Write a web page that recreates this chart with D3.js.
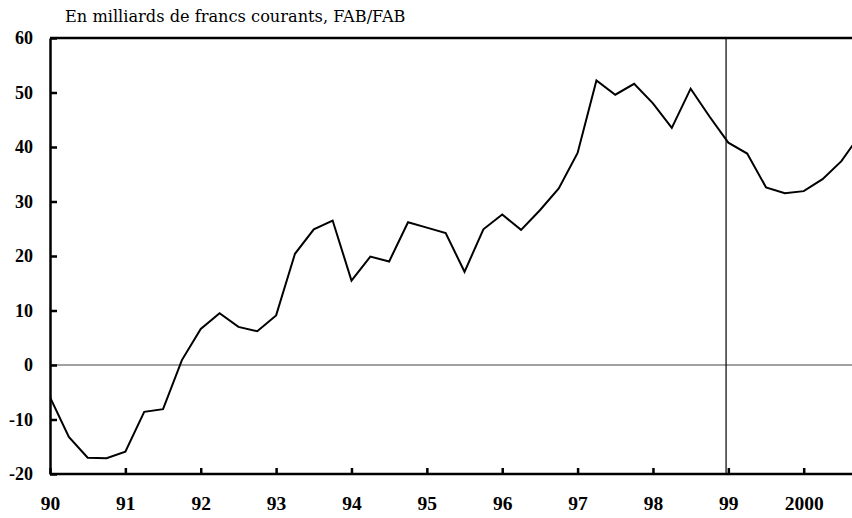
<!DOCTYPE html>
<html>
<head>
<meta charset="utf-8">
<script src="https://cdn.jsdelivr.net/npm/d3@7"></script>
<style>
	body { margin: 0; background: #fff; }
	.axis path, .axis line { stroke: #000; stroke-width: 2.5; }
	.x-axis text { font-family: "Liberation Serif", serif; font-weight: bold; font-size: 19.5px; }
	.y-axis text { font-family: "Liberation Serif", serif; font-weight: bold; font-size: 18px; }
</style>
</head>
<body>
<div id="chart"></div>
<script>

// Quarterly dates (year as 90 + fraction, 100 = 2000)
var quarters = [
	90, 90.25, 90.5, 90.75, 91, 91.25, 91.5, 91.75,
	92, 92.25, 92.5, 92.75, 93, 93.25, 93.5, 93.75,
	94, 94.25, 94.5, 94.75, 95, 95.25, 95.5, 95.75,
	96, 96.25, 96.5, 96.75, 97, 97.25, 97.5, 97.75,
	98, 98.25, 98.5, 98.75, 99, 99.25, 99.5, 99.75,
	100, 100.25, 100.5, 100.75
];

// Trade balance, billions of current francs
var balance = [
	-5.9, -13.2, -17.0, -17.1, -15.9, -8.6, -8.1, 0.9,
	6.6, 9.5, 7.0, 6.2, 9.1, 20.4, 24.9, 26.5,
	15.5, 19.9, 19.0, 26.2, 25.2, 24.2, 17.1, 24.9,
	27.6, 24.8, 28.4, 32.4, 38.9, 52.2, 49.6, 51.6,
	48.0, 43.5, 50.7, 45.6, 40.8, 38.8, 32.6, 31.5,
	31.9, 34.1, 37.4, 42.3
];

var yTicks = [-20, -10, 0, 10, 20, 30, 40, 50, 60];
var xTicks = [90, 91, 92, 93, 94, 95, 96, 97, 98, 99, 100];
var xTickLabels = ["90", "91", "92", "93", "94", "95", "96", "97", "98", "99", "2000"];
var markerDate = 98.97;

var title = "En milliards de francs courants, FAB/FAB";

var data = quarters.map(function (q, i) { return { date: q, value: balance[i] }; });

var svgWidth = 852, svgHeight = 518;
var margin = { top: 38, left: 50, bottom: 44 };
var height = svgHeight - margin.top - margin.bottom;
var yearWidth = 75.37;

var svg = d3.select("#chart").append("svg")
	.attr("width", svgWidth)
	.attr("height", svgHeight);

var g = svg.append("g")
	.attr("transform", "translate(" + margin.left + "," + margin.top + ")");

var x = d3.scaleLinear()
	.domain([90, 100])
	.range([0, 10 * yearWidth]);

var y = d3.scaleLinear()
	.domain([-20, 60])
	.range([height, 0]);

var plotRight = svgWidth - margin.left;

g.append("defs").append("clipPath")
	.attr("id", "clip")
	.append("rect")
	.attr("width", plotRight)
	.attr("height", height);

// Title
svg.append("text")
	.attr("x", 65)
	.attr("y", 22)
	.style("font-family", "'DejaVu Serif', serif")
	.style("font-size", "16.2px")
	.text(title);

// Zero line
g.append("line")
	.attr("x1", 0)
	.attr("x2", plotRight)
	.attr("y1", y(0))
	.attr("y2", y(0))
	.attr("stroke", "#444")
	.attr("stroke-width", 1.2);

// Vertical marker
g.append("line")
	.attr("x1", x(markerDate))
	.attr("x2", x(markerDate))
	.attr("y1", 0)
	.attr("y2", height)
	.attr("stroke", "#000")
	.attr("stroke-width", 1.2);

// Top border
g.append("line")
	.attr("x1", 0)
	.attr("x2", plotRight)
	.attr("y1", 0)
	.attr("y2", 0)
	.attr("stroke", "#000")
	.attr("stroke-width", 2.5);

// Axes
var xAxis = d3.axisBottom(x)
	.tickValues(xTicks)
	.tickSizeInner(-6)
	.tickSizeOuter(0)
	.tickPadding(22)
	.tickFormat(function (d, i) { return xTickLabels[i]; });

var yAxis = d3.axisLeft(y)
	.tickValues(yTicks)
	.tickSizeInner(-7)
	.tickSizeOuter(0)
	.tickPadding(17)
	.tickFormat(function (d) { return String(d); });

var xg = g.append("g")
	.attr("class", "x-axis axis")
	.attr("transform", "translate(0," + height + ")")
	.call(xAxis);
xg.select(".domain").attr("d", "M0,0H" + plotRight);

g.append("g")
	.attr("class", "y-axis axis")
	.call(yAxis);

g.selectAll(".axis .tick line").attr("stroke-width", 2);

// Line
var line = d3.line()
	.x(function (d) { return x(d.date); })
	.y(function (d) { return y(d.value); });

g.append("path")
	.datum(data)
	.attr("clip-path", "url(#clip)")
	.attr("fill", "none")
	.attr("stroke", "#000")
	.attr("stroke-width", 2)
	.attr("stroke-linejoin", "miter")
	.attr("d", line);

</script>
</body>
</html>
